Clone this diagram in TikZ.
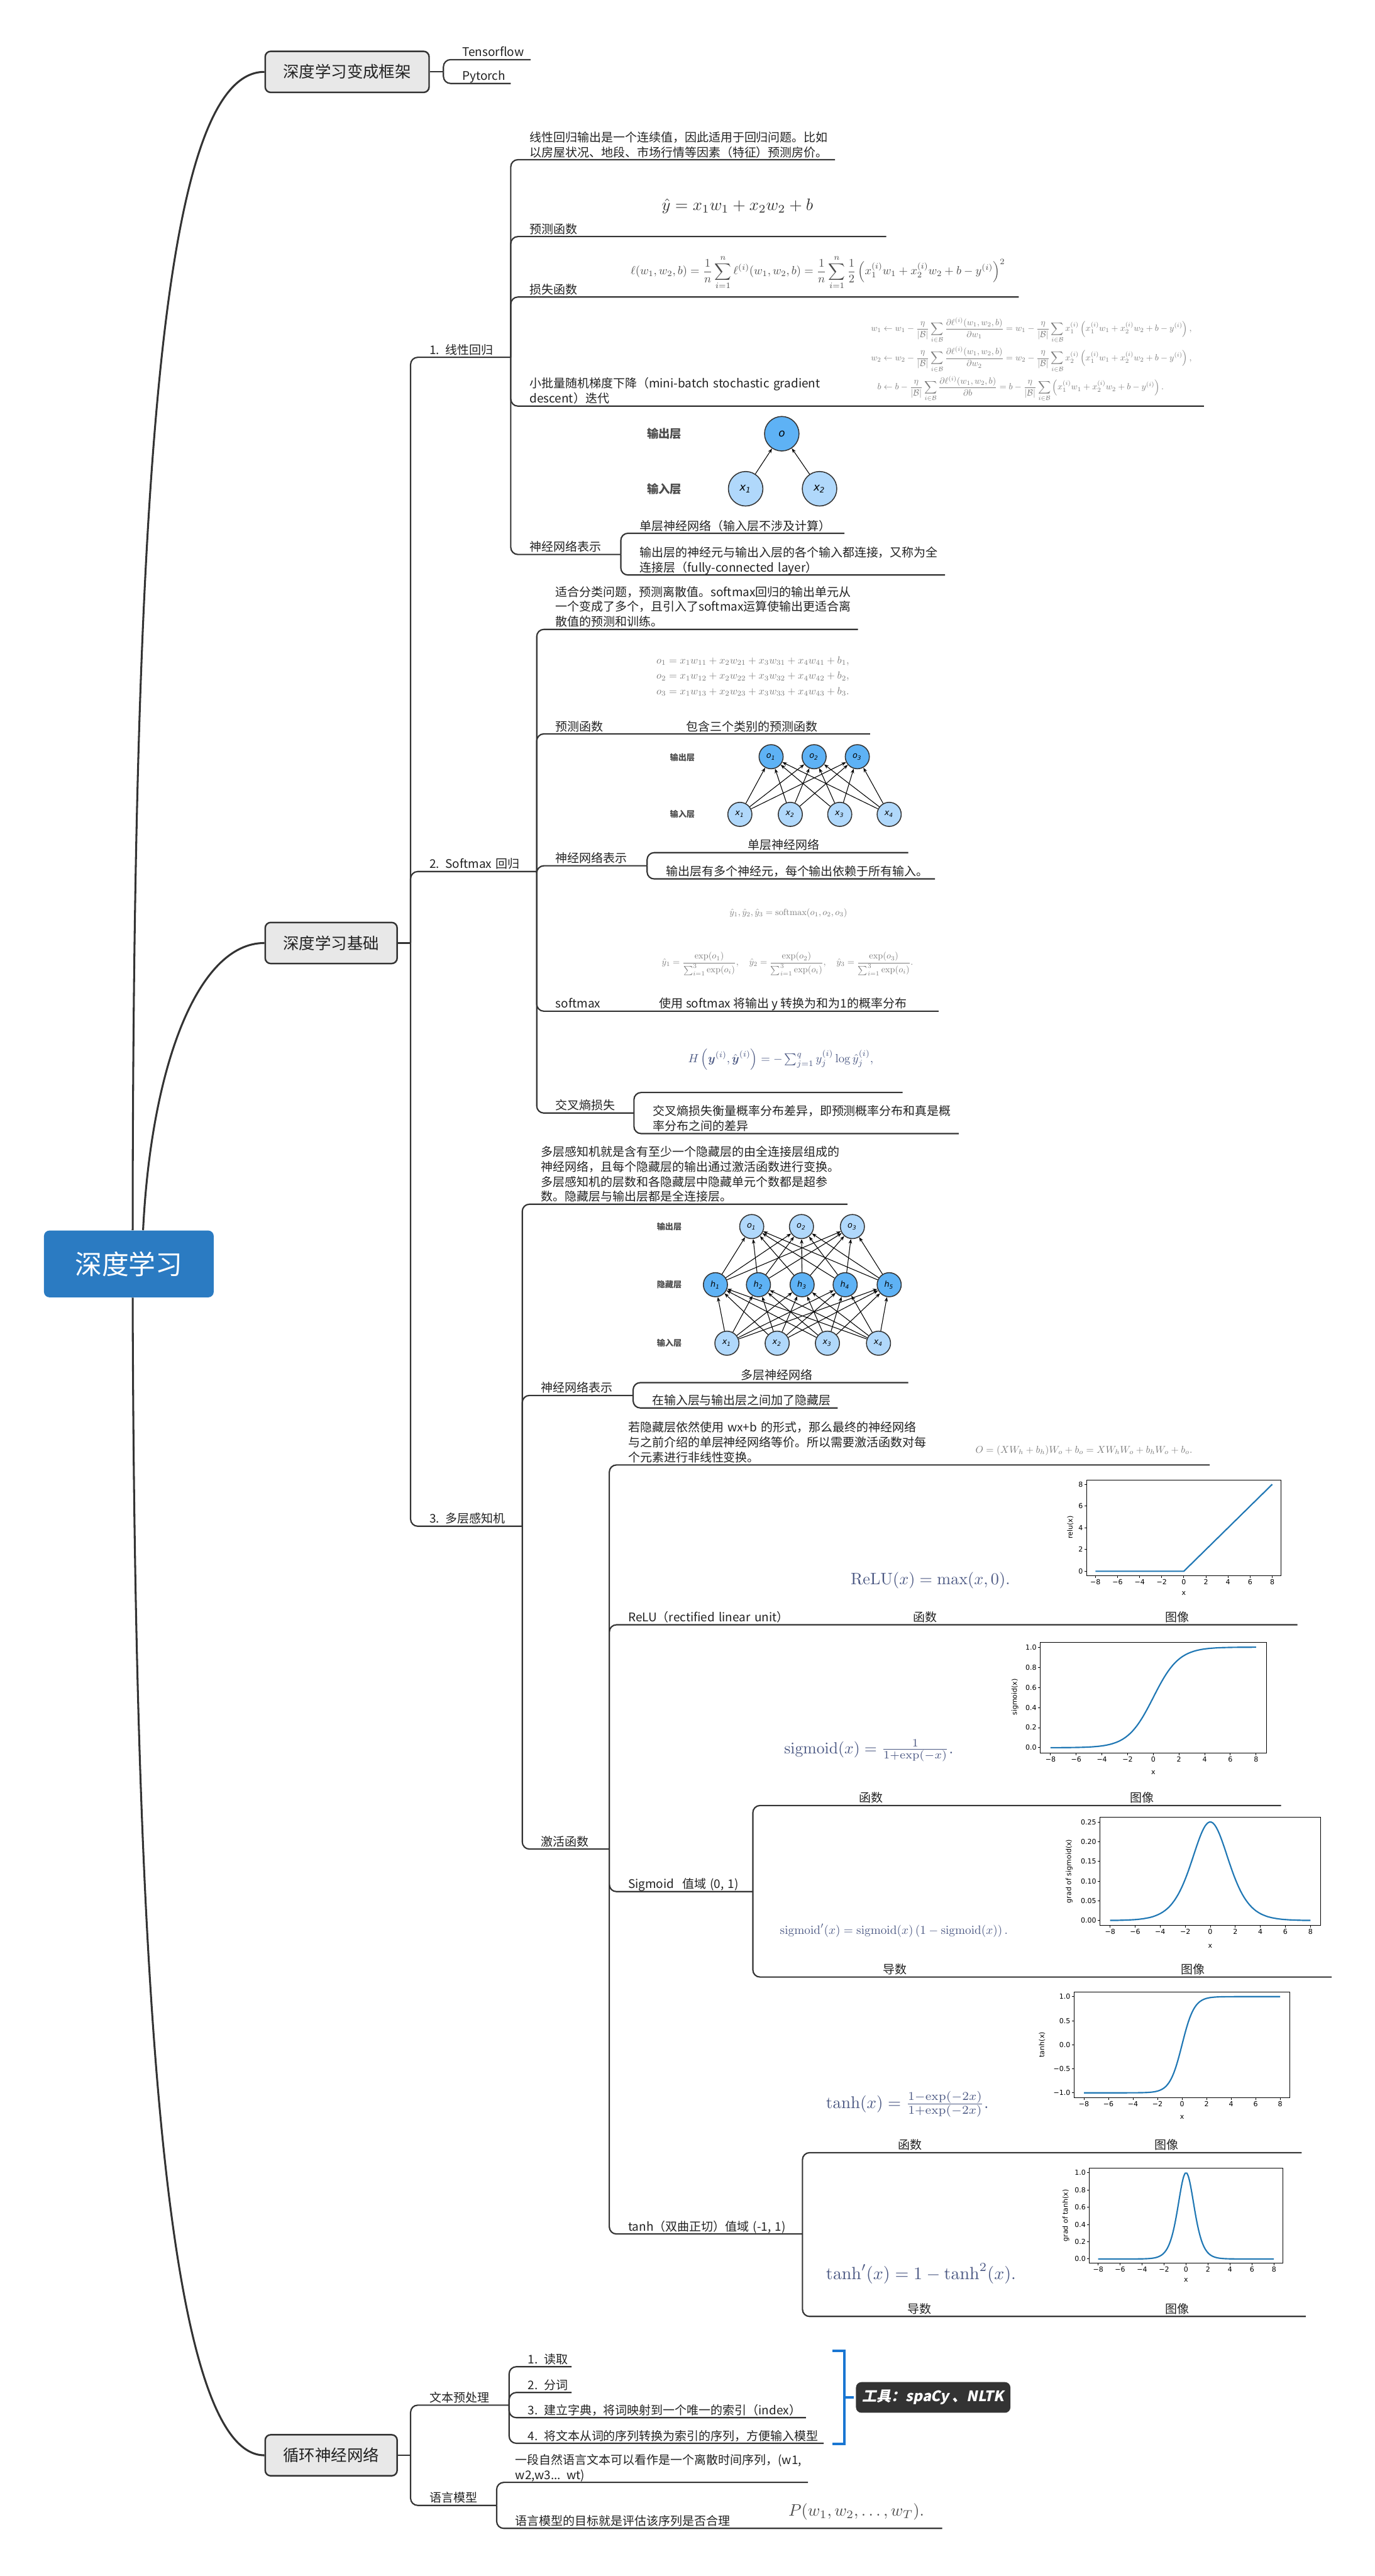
\documentclass[tikz,border=0pt]{standalone}
\usepackage[no-math]{fontspec}
\usepackage{amsmath,amssymb}
\usepackage{graphicx}
\setmainfont{Noto Sans CJK SC}
\newfontfamily\nnfont{DejaVu Sans}
\newfontfamily\plotfont{DejaVu Sans}
\newfontfamily\toolfont[FakeSlant=0.2,BoldFeatures={FakeSlant=0.2}]{Noto Sans CJK SC}
\usetikzlibrary{arrows.meta}

\definecolor{lineclr}{HTML}{333333}
\definecolor{txtclr}{HTML}{222222}
\definecolor{boxfill}{HTML}{E8E8E8}
\definecolor{rootblue}{HTML}{2B7BC2}
\definecolor{nndk}{HTML}{5EB2F5}
\definecolor{nnlt}{HTML}{B0D8FB}
\definecolor{pltblue}{HTML}{1F77B4}
\definecolor{brkblue}{HTML}{1976D2}
\definecolor{fmldark}{HTML}{333333}
\definecolor{fmlgray}{HTML}{7A7A7A}
\definecolor{fmlslate}{HTML}{4A5782}

\newcommand\ftopic{\fontsize{6.2}{7.8}\selectfont}
\newcommand\fml[2]{\resizebox{#1cm}{!}{$\displaystyle #2$}}

\begin{document}
\begin{tikzpicture}[x=0.03cm, y=-0.03cm,
  trunk/.style={draw=lineclr, line width=1pt},
  branch/.style={draw=lineclr, line width=0.7pt, rounded corners=0.13cm},
  topic/.style={anchor=south west, inner xsep=0pt, inner ysep=0.2pt, outer sep=0pt,
    align=left, font=\ftopic, text=txtclr,
    execute at begin node={\leftskip=0.345cm\rightskip=0pt plus 1fil minus 100cm\relax},
    execute at end node={\rule[-1.4pt]{0pt}{0pt}}},
  tw/.code={\pgfmathsetlengthmacro\twlen{(#1)*0.03cm}\tikzset{text width/.expanded=\twlen}},
  capt/.style={anchor=south west, inner xsep=0pt, inner ysep=0.2pt, outer sep=0pt,
    font=\ftopic, text=txtclr, execute at end node={\rule[-1.4pt]{0pt}{0pt}}},
  mainbox/.style={anchor=west, draw=lineclr, fill=boxfill, line width=0.8pt, rounded corners=0.1cm,
    inner xsep=0.33cm, minimum height=0.75cm, font=\fontsize{8.3}{9}\selectfont, text=txtclr},
  rootbox/.style={fill=rootblue, rounded corners=0.1cm, minimum width=3.1cm, minimum height=1.22cm,
    font=\fontsize{14}{16}\selectfont, text=white},
  fml/.style={inner sep=0pt},
  nrn/.style={circle, draw=lineclr, line width=0.5pt, inner sep=0pt, minimum size=0.44cm,
    font=\nnfont\itshape\fontsize{4.2}{5}\selectfont},
  bignrn/.style={nrn, minimum size=0.63cm, font=\nnfont\itshape\fontsize{5.5}{6}\selectfont},
  nnarr/.style={-{Stealth[length=2.4pt,width=1.8pt]}, line width=0.35pt},
  lyrlbl/.style={font=\bfseries\fontsize{4.3}{5}\selectfont, text=black!70},
  axisln/.style={line width=0.3pt},
  ticklbl/.style={font=\plotfont\fontsize{3.6}{4}\selectfont, inner sep=0.6pt},
  axlbl/.style={font=\plotfont\fontsize{3.6}{4}\selectfont, inner sep=0pt},
  plotln/.style={draw=pltblue, line width=0.7pt},
  brk/.style={draw=brkblue, line width=1.3pt},
  toolbox/.style={fill=lineclr, rounded corners=0.1cm, minimum width=2.5cm, minimum height=0.56cm,
    font=\toolfont\bfseries\fontsize{7.5}{8}\selectfont, text=white}
]
\useasboundingbox (0,0) rectangle (837,1568);
\fill[white] (0,0) rectangle (837,1568);

% root and the three main branches
\node[rootbox] (root) at (78.45,769.35) {深度学习};
\node[mainbox] (frame) at (161,43.75) {深度学习变成框架};
\node[mainbox] (basics) at (161,574) {深度学习基础};
\node[mainbox] (rnn) at (161,1494.5) {循环神经网络};
\draw[trunk] ([xshift=0.07cm]root.north) .. controls (81,280) and (100,43.75) .. (frame.west);
\draw[trunk] ([xshift=0.26cm]root.north) .. controls (92,650) and (120,574) .. (basics.west);
\draw[trunk] ([xshift=0.07cm]root.south) .. controls (82,1250) and (105,1494.5) .. (rnn.west);

% frameworks
\node[topic, tw=323-270] (tf) at (270,36.3) {Tensorflow};
\node[topic, tw=311-270] (pt) at (270,50.8) {Pytorch};
\draw[branch] (frame.east) -- (frame.east -| tf.south west);
\foreach \c in {tf,pt}
  \draw[branch] (frame.east -| \c.south west) |- (\c.south east);

% basics
\node[topic, tw=311-250] (lin) at (250,217.5) {1. 线性回归};
\node[topic, tw=326.8-250] (smx) at (250,530.5) {2. Softmax 回归};
\node[topic, tw=318-250] (mlp) at (250,929) {3. 多层感知机};
\draw[branch] (basics.east) -- (basics.east -| lin.south west);
\foreach \c in {lin,smx,mlp}
  \draw[branch] (basics.east -| \c.south west) |- (\c.south east);

% 1. linear regression
\node[topic, tw=508.4-311] (lin-desc) at (311,97.2) {线性回归输出是一个连续值，因此适用于回归问题。比如\\以房屋状况、地段、市场行情等因素（特征）预测房价。};
\node[topic, tw=539.6-311] (lin-pred) at (311,144) {预测函数};
\node[topic, tw=620.3-311] (lin-loss) at (311,180.8) {损失函数};
\node[topic, tw=733-311] (lin-sgd) at (311,247.2) {小批量随机梯度下降（mini-batch stochastic gradient\\descent）迭代};
\node[topic, tw=378-311] (lin-nn) at (311,337.5) {神经网络表示};
\node[topic, tw=514.2-378] (lin-nn1) at (378,324.6) {单层神经网络（输入层不涉及计算）};
\node[topic, tw=575.4-378] (lin-nn2) at (378,350) {输出层的神经元与输出入层的各个输入都连接，又称为全\\连接层（fully-connected layer）};
\foreach \c in {lin-desc,lin-pred,lin-loss,lin-sgd,lin-nn}
  \draw[branch] (lin.south east) |- (\c.south east);
\foreach \c in {lin-nn1,lin-nn2}
  \draw[branch] (lin-nn.south east) |- (\c.south east);

\node[fml, text=fmldark] (f-pred) at (449,125.6) {\fml{2.76}{\hat{y} = x_1 w_1 + x_2 w_2 + b}};
\node[fml, text=black!70] (f-loss) at (498,165.9) {\fml{6.84}{\ell(w_1, w_2, b) = \frac{1}{n}\sum_{i=1}^{n}\ell^{(i)}(w_1, w_2, b) = \frac{1}{n}\sum_{i=1}^{n}\frac{1}{2}\left(x_1^{(i)}w_1 + x_2^{(i)}w_2 + b - y^{(i)}\right)^2}};
\node[fml, text=fmlgray] (f-sgd) at (628,218.9) {\fml{5.86}{\begin{aligned}
  w_1 &\leftarrow w_1 - \frac{\eta}{|\mathcal{B}|}\sum_{i\in\mathcal{B}}\frac{\partial\ell^{(i)}(w_1,w_2,b)}{\partial w_1} = w_1 - \frac{\eta}{|\mathcal{B}|}\sum_{i\in\mathcal{B}}x_1^{(i)}\left(x_1^{(i)}w_1+x_2^{(i)}w_2+b-y^{(i)}\right),\\
  w_2 &\leftarrow w_2 - \frac{\eta}{|\mathcal{B}|}\sum_{i\in\mathcal{B}}\frac{\partial\ell^{(i)}(w_1,w_2,b)}{\partial w_2} = w_2 - \frac{\eta}{|\mathcal{B}|}\sum_{i\in\mathcal{B}}x_2^{(i)}\left(x_1^{(i)}w_1+x_2^{(i)}w_2+b-y^{(i)}\right),\\
  b &\leftarrow b - \frac{\eta}{|\mathcal{B}|}\sum_{i\in\mathcal{B}}\frac{\partial\ell^{(i)}(w_1,w_2,b)}{\partial b} = b - \frac{\eta}{|\mathcal{B}|}\sum_{i\in\mathcal{B}}\left(x_1^{(i)}w_1+x_2^{(i)}w_2+b-y^{(i)}\right).
  \end{aligned}}};

% single-layer net
\node[lyrlbl, font=\bfseries\fontsize{6}{7}\selectfont] (ln-out) at (404.5,264) {输出层};
\node[lyrlbl, font=\bfseries\fontsize{6}{7}\selectfont] (ln-in) at (404.5,297.5) {输入层};
\node[bignrn, fill=nndk] (ln-o) at (476,264) {o};
\node[bignrn, fill=nnlt] (ln-x1) at (454,297.5) {x\textsubscript{1}};
\node[bignrn, fill=nnlt] (ln-x2) at (499,297.5) {x\textsubscript{2}};
\draw[nnarr] (ln-x1) -- (ln-o);
\draw[nnarr] (ln-x2) -- (ln-o);

% 2. softmax regression
\node[topic, tw=522.4-326.8] (smx-desc) at (326.8,383.1) {适合分类问题，预测离散值。softmax回归的输出单元从\\一个变成了多个，且引入了softmax运算使输出更适合离\\散值的预测和训练。};
\node[topic, tw=529.8-326.8] (smx-pred) at (326.8,446.7) {预测函数};
\node[capt] (smx-predcap) at (418,446.7) {包含三个类别的预测函数};
\node[topic, tw=394-326.8] (smx-nn) at (326.8,527) {神经网络表示};
\node[topic, tw=553-394] (smx-nn1) at (394,519) {};
\node[capt] (smx-nn1cap) at (455.5,519) {单层神经网络};
\node[topic, tw=569.3-394] (smx-nn2) at (394,535) {输出层有多个神经元，每个输出依赖于所有输入。};
\node[topic, tw=571.5-326.8] (smx-sm) at (326.8,615.5) {softmax};
\node[capt] (smx-smcap) at (401.5,615.5) {使用 softmax 将输出 y 转换为和为1的概率分布};
\node[topic, tw=386-326.8] (smx-ce) at (326.8,677.5) {交叉熵损失};
\node[topic, tw=549.6-386] (smx-ce1) at (386,665) {};
\node[topic, tw=583.7-386] (smx-ce2) at (386,690) {交叉熵损失衡量概率分布差异，即预测概率分布和真是概\\率分布之间的差异};
\foreach \c in {smx-desc,smx-pred,smx-nn,smx-sm,smx-ce}
  \draw[branch] (smx.south east) |- (\c.south east);
\foreach \c in {smx-nn1,smx-nn2}
  \draw[branch] (smx-nn.south east) |- (\c.south east);
\foreach \c in {smx-ce1,smx-ce2}
  \draw[branch] (smx-ce.south east) |- (\c.south east);

\node[fml, text=fmlgray] (f-o) at (458.4,411.8) {\fml{3.52}{\begin{aligned}
  o_1 &= x_1 w_{11} + x_2 w_{21} + x_3 w_{31} + x_4 w_{41} + b_1,\\
  o_2 &= x_1 w_{12} + x_2 w_{22} + x_3 w_{32} + x_4 w_{42} + b_2,\\
  o_3 &= x_1 w_{13} + x_2 w_{23} + x_3 w_{33} + x_4 w_{43} + b_3.
  \end{aligned}}};
\node[fml, text=fmlgray] (f-sm) at (480,555.7) {\fml{2.15}{\hat{y}_1, \hat{y}_2, \hat{y}_3 = \mathrm{softmax}(o_1, o_2, o_3)}};
\node[fml, text=fmlgray] (f-smfrac) at (479.5,586.7) {\fml{4.59}{\hat{y}_1 = \frac{\exp(o_1)}{\sum_{i=1}^3 \exp(o_i)},\quad \hat{y}_2 = \frac{\exp(o_2)}{\sum_{i=1}^3 \exp(o_i)},\quad \hat{y}_3 = \frac{\exp(o_3)}{\sum_{i=1}^3 \exp(o_i)}.}};
\node[fml, text=fmlslate] (f-ce) at (475.4,645) {\fml{3.38}{H\left(\boldsymbol{y}^{(i)}, \hat{\boldsymbol{y}}^{(i)}\right) = -\textstyle\sum_{j=1}^{q} y_j^{(i)} \log \hat{y}_j^{(i)},}};

% softmax net
\node[lyrlbl] (sn-out) at (415.5,461) {输出层};
\node[lyrlbl] (sn-in) at (415.5,495.4) {输入层};
\foreach \i/\xx in {1/469.5,2/495.7,3/522}
  \node[nrn, fill=nndk] (sn-o\i) at (\xx,460.6) {o\textsubscript{\i}};
\foreach \i/\xx in {1/450.5,2/481.2,3/511.3,4/541.4}
  \node[nrn, fill=nnlt] (sn-x\i) at (\xx,495.7) {x\textsubscript{\i}};
\foreach \i in {1,...,4}
  \foreach \j in {1,2,3}
    \draw[nnarr] (sn-x\i) -- (sn-o\j);

% 3. multilayer perceptron
\node[topic, tw=516-318] (mlp-desc) at (318,733) {多层感知机就是含有至少一个隐藏层的由全连接层组成的\\神经网络，且每个隐藏层的输出通过激活函数进行变换。\\多层感知机的层数和各隐藏层中隐藏单元个数都是超参\\数。隐藏层与输出层都是全连接层。};
\node[topic, tw=385.5-318] (mlp-nn) at (318,849.4) {神经网络表示};
\node[topic, tw=553-385.5] (mlp-nn1) at (385.5,841.6) {};
\node[capt] (mlp-nn1cap) at (451,841.6) {多层神经网络};
\node[topic, tw=510-385.5] (mlp-nn2) at (385.5,857) {在输入层与输出层之间加了隐藏层};
\node[topic, tw=371-318] (act) at (318,1125.5) {激活函数};
\foreach \c in {mlp-desc,mlp-nn,act}
  \draw[branch] (mlp.south east) |- (\c.south east);
\foreach \c in {mlp-nn1,mlp-nn2}
  \draw[branch] (mlp-nn.south east) |- (\c.south east);

% multilayer net
\node[lyrlbl] (mn-out) at (407.5,746.6) {输出层};
\node[lyrlbl] (mn-hid) at (407.5,782) {隐藏层};
\node[lyrlbl] (mn-in) at (407.5,817.6) {输入层};
\foreach \i/\xx in {1/457.7,2/488,3/519}
  \node[nrn, fill=nnlt] (mn-o\i) at (\xx,746.6) {o\textsubscript{\i}};
\foreach \i/\xx in {1/435.6,2/461.8,3/488.4,4/514.6,5/541.4}
  \node[nrn, fill=nndk] (mn-h\i) at (\xx,782) {h\textsubscript{\i}};
\foreach \i/\xx in {1/442.6,2/473.2,3/503.8,4/534.9}
  \node[nrn, fill=nnlt] (mn-x\i) at (\xx,817.6) {x\textsubscript{\i}};
\foreach \i in {1,...,4}
  \foreach \j in {1,...,5}
    \draw[nnarr] (mn-x\i) -- (mn-h\j);
\foreach \i in {1,...,5}
  \foreach \j in {1,2,3}
    \draw[nnarr] (mn-h\i) -- (mn-o\j);

% activation functions
\node[topic, tw=736.6-371] (act-desc) at (371,891.7) {若隐藏层依然使用 wx+b 的形式，那么最终的神经网络\\与之前介绍的单层神经网络等价。所以需要激活函数对每\\个元素进行非线性变换。};
\node[topic, tw=790-371] (relu) at (371,989) {ReLU（rectified linear unit）};
\node[capt] (relu-c1) at (556,989) {函数};
\node[capt] (relu-c2) at (709.6,989) {图像};
\node[topic, tw=458.4-371] (sig) at (371,1151.4) {Sigmoid\ \ 值域 (0, 1)};
\node[topic, tw=780-458.4] (sig-f) at (458.4,1099) {};
\node[capt] (sig-fc1) at (523,1099) {函数};
\node[capt] (sig-fc2) at (688,1099) {图像};
\node[topic, tw=810.8-458.4] (sig-d) at (458.4,1203.4) {};
\node[capt] (sig-dc1) at (537.7,1203.4) {导数};
\node[capt] (sig-dc2) at (719,1203.4) {图像};
\node[topic, tw=488.6-371] (tanh) at (371,1359.8) {tanh（双曲正切）值域 (-1, 1)};
\node[topic, tw=792.6-488.6] (tanh-f) at (488.6,1310.3) {};
\node[capt] (tanh-fc1) at (547,1310.3) {函数};
\node[capt] (tanh-fc2) at (703,1310.3) {图像};
\node[topic, tw=795-488.6] (tanh-d) at (488.6,1410) {};
\node[capt] (tanh-dc1) at (552.6,1410) {导数};
\node[capt] (tanh-dc2) at (709.5,1410) {图像};
\foreach \c in {act-desc,relu,sig,tanh}
  \draw[branch] (act.south east) |- (\c.south east);
\foreach \c in {sig-f,sig-d}
  \draw[branch] (sig.south east) |- (\c.south east);
\foreach \c in {tanh-f,tanh-d}
  \draw[branch] (tanh.south east) |- (\c.south east);

\node[fml, text=fmlgray] (f-lin) at (660,883) {\fml{3.96}{O = (XW_h + b_h)W_o + b_o = XW_hW_o + b_hW_o + b_o.}};
\node[fml, text=fmlslate] (f-relu) at (566.5,961.8) {\fml{2.91}{\mathrm{ReLU}(x) = \max(x, 0).}};
\node[fml, text=fmlslate] (f-sig) at (529,1065.7) {\fml{3.09}{\mathrm{sigmoid}(x) = \tfrac{1}{1+\exp(-x)}.}};
\node[fml, text=fmlslate] (f-dsig) at (544.3,1175) {\fml{4.16}{\mathrm{sigmoid}'(x) = \mathrm{sigmoid}(x)\left(1-\mathrm{sigmoid}(x)\right).}};
\node[fml, text=fmlslate] (f-tanh) at (552.5,1280.7) {\fml{2.97}{\tanh(x) = \tfrac{1-\exp(-2x)}{1+\exp(-2x)}.}};
\node[fml, text=fmlslate] (f-dtanh) at (560.8,1384) {\fml{3.47}{\tanh'(x) = 1-\tanh^2(x).}};

% relu plot
\draw[axisln] (661.6,900.8) rectangle (780,959);
\foreach \tk/\lb [count=\n] in {-8/−8,-6/−6,-4/−4,-2/−2,0/0,2/2,4/4,6/6,8/8}
  \draw[axisln] ({720.8+6.727*\tk},959) -- ++(0,1.4) node[ticklbl, below] (rl-x\n) {\lb};
\foreach \tk [count=\n] in {0,2,4,6,8}
  \draw[axisln] (661.6,{956.4-6.61*\tk}) -- ++(-1.4,0) node[ticklbl, left] (rl-y\n) {\tk};
\node[axlbl, rotate=90] (rl-yl) at (651.7,929.7) {relu(x)};
\node[axlbl] (rl-xl) at (720.8,970) {x};
\begin{scope}[shift={(720.8,956.4)}, xscale=6.727, yscale=-6.61]
  \draw[plotln] (-8,0) -- (0,0) -- (8,8);
\end{scope}

% sigmoid plot
\draw[axisln] (633.4,999.6) rectangle (771,1066.9);
\foreach \tk/\lb [count=\n] in {-8/−8,-6/−6,-4/−4,-2/−2,0/0,2/2,4/4,6/6,8/8}
  \draw[axisln] ({702.2+7.82*\tk},1066.9) -- ++(0,1.4) node[ticklbl, below] (sg-x\n) {\lb};
\foreach \tk/\lb [count=\n] in {0/0.0,0.2/0.2,0.4/0.4,0.6/0.6,0.8/0.8,1/1.0}
  \draw[axisln] (633.4,{1063.8-61.2*\tk}) -- ++(-1.4,0) node[ticklbl, left] (sg-y\n) {\lb};
\node[axlbl, rotate=90] (sg-yl) at (618,1033) {sigmoid(x)};
\node[axlbl] (sg-xl) at (702.2,1079) {x};
\begin{scope}[shift={(702.2,1063.8)}, xscale=7.82, yscale=-61.2]
  \draw[plotln] plot[domain=-8:8, samples=80, smooth] (\x,{1/(1+exp(-\x))});
\end{scope}

% sigmoid gradient plot
\draw[axisln] (669.8,1106) rectangle (804,1172);
\foreach \tk/\lb [count=\n] in {-8/−8,-6/−6,-4/−4,-2/−2,0/0,2/2,4/4,6/6,8/8}
  \draw[axisln] ({736.9+7.625*\tk},1172) -- ++(0,1.4) node[ticklbl, below] (sd-x\n) {\lb};
\foreach \tk/\lb [count=\n] in {0/0.00,0.05/0.05,0.1/0.10,0.15/0.15,0.2/0.20,0.25/0.25}
  \draw[axisln] (669.8,{1169-240*\tk}) -- ++(-1.4,0) node[ticklbl, left] (sd-y\n) {\lb};
\node[axlbl, rotate=90] (sd-yl) at (651,1139) {grad of sigmoid(x)};
\node[axlbl] (sd-xl) at (736.9,1184.7) {x};
\begin{scope}[shift={(736.9,1169)}, xscale=7.625, yscale=-240]
  \draw[plotln] plot[domain=-8:8, samples=100, smooth] (\x,{exp(-abs(\x))/(1+exp(-abs(\x)))^2});
\end{scope}

% tanh plot
\draw[axisln] (654,1212.4) rectangle (785.4,1276.8);
\foreach \tk/\lb [count=\n] in {-8/−8,-6/−6,-4/−4,-2/−2,0/0,2/2,4/4,6/6,8/8}
  \draw[axisln] ({719.7+7.466*\tk},1276.8) -- ++(0,1.4) node[ticklbl, below] (th-x\n) {\lb};
\foreach \tk/\lb [count=\n] in {-1/−1.0,-0.5/−0.5,0/0.0,0.5/0.5,1/1.0}
  \draw[axisln] (654,{1244.6-29.27*\tk}) -- ++(-1.4,0) node[ticklbl, left] (th-y\n) {\lb};
\node[axlbl, rotate=90] (th-yl) at (634.5,1244.6) {tanh(x)};
\node[axlbl] (th-xl) at (719.7,1288.8) {x};
\begin{scope}[shift={(719.7,1244.6)}, xscale=7.466, yscale=-29.27]
  \draw[plotln] plot[domain=-8:0, samples=50, smooth] (\x,{(exp(2*\x)-1)/(exp(2*\x)+1)})
    -- plot[domain=0:8, samples=50, smooth] (\x,{(1-exp(-2*\x))/(1+exp(-2*\x))});
\end{scope}

% tanh gradient plot
\draw[axisln] (663.3,1319.8) rectangle (781,1377.6);
\foreach \tk/\lb [count=\n] in {-8/−8,-6/−6,-4/−4,-2/−2,0/0,2/2,4/4,6/6,8/8}
  \draw[axisln] ({722.15+6.69*\tk},1377.6) -- ++(0,1.4) node[ticklbl, below] (td-x\n) {\lb};
\foreach \tk/\lb [count=\n] in {0/0.0,0.2/0.2,0.4/0.4,0.6/0.6,0.8/0.8,1/1.0}
  \draw[axisln] (663.3,{1375-52.5*\tk}) -- ++(-1.4,0) node[ticklbl, left] (td-y\n) {\lb};
\node[axlbl, rotate=90] (td-yl) at (649,1348.6) {grad of tanh(x)};
\node[axlbl] (td-xl) at (722.15,1388) {x};
\begin{scope}[shift={(722.15,1375)}, xscale=6.69, yscale=-52.5]
  \draw[plotln] plot[domain=-8:8, samples=120, smooth] (\x,{4*exp(-2*abs(\x))/(1+exp(-2*abs(\x)))^2});
\end{scope}

% recurrent networks
\node[topic, tw=310-250] (pre) at (250,1464) {文本预处理};
\node[topic, tw=348-310] (pre1) at (310,1440.6) {1. 读取};
\node[topic, tw=348-310] (pre2) at (310,1456.3) {2. 分词};
\node[topic, tw=490.7-310] (pre3) at (310,1471.6) {3. 建立字典，将词映射到一个唯一的索引（index）};
\node[topic, tw=501.5-310] (pre4) at (310,1487.2) {4. 将文本从词的序列转换为索引的序列，方便输入模型};
\node[topic, tw=302.4-250] (lm) at (250,1525) {语言模型};
\node[topic, tw=492-302.4] (lm1) at (302.4,1511) {一段自然语言文本可以看作是一个离散时间序列，(w1,\\w2,w3... wt)};
\node[topic, tw=573.7-302.4] (lm2) at (302.4,1539) {语言模型的目标就是评估该序列是否合理};
\draw[branch] (rnn.east) -- (rnn.east -| pre.south west);
\foreach \c in {pre,lm}
  \draw[branch] (rnn.east -| \c.south west) |- (\c.south east);
\foreach \c in {pre1,pre2,pre3,pre4}
  \draw[branch] (pre.south east) |- (\c.south east);
\foreach \c in {lm1,lm2}
  \draw[branch] (lm.south east) |- (\c.south east);
\node[fml, text=black!70] (f-lm) at (521.4,1529) {\fml{2.48}{P(w_1, w_2, \ldots, w_T).}};

% summary bracket and tools
\draw[brk] (507,1430.8) -- (514,1430.8) -- (514,1487.7) -- (507,1487.7);
\draw[brk] (514,1459.3) -- (520,1459.3);
\node[toolbox] (tool) at (568.2,1459.3) {工具：spaCy 、NLTK};
\end{tikzpicture}
\end{document}
